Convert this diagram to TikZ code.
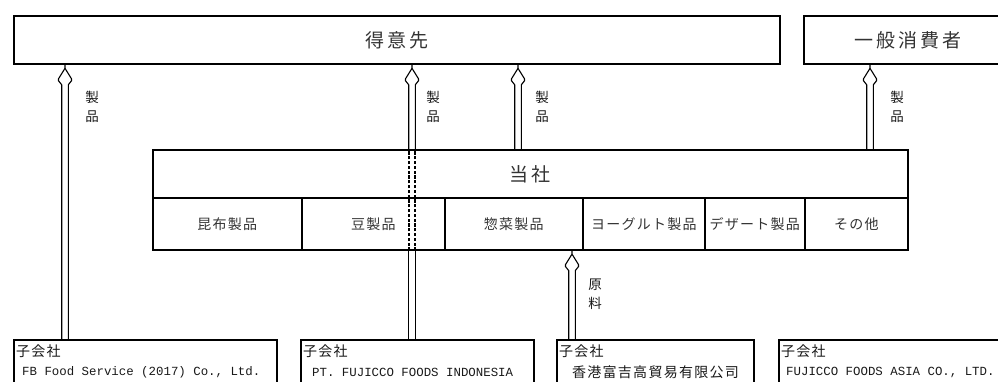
\documentclass[tikz,border=0pt]{standalone}
\usepackage{fontspec}
\setmainfont{Liberation Serif}
\newfontfamily\jpbig{Noto Sans CJK JP}[LetterSpace=15]
\newfontfamily\jp{Noto Sans CJK JP}[LetterSpace=9]
\newfontfamily\jpv{Noto Sans CJK JP}
\newfontfamily\monof{Liberation Mono}
\usetikzlibrary{calc}
\tikzset{
  box/.style={draw, line width=1.8pt, inner sep=0pt, anchor=north west, text=black!80},
  big/.style={font=\jpbig\fontsize{19}{20}\selectfont},
  cell/.style={draw, line width=1.6pt, inner sep=0pt, anchor=north west, minimum height=52pt, text=black!80, font=\jp\fontsize{14}{15}\selectfont},
  lab/.style={inner sep=0pt, align=center, text=black!90, font=\jpv\fontsize{13.5}{19}\selectfont},
  subtxt/.style={inner sep=0pt, anchor=west, text=black!90},
  subjp/.style={subtxt, font=\jp\fontsize{14}{15}\selectfont},
  submono/.style={subtxt, font=\monof\fontsize{12.4}{13}\selectfont},
  arr/.style={line width=1.1pt},
  uparrow/.style={to path={
    ($(\tikztostart)+(-3.3,0)$) -- ($(\tikztotarget)+(-3.3,20)$) -- ($(\tikztotarget)+(-6.5,16)$)
    -- ($(\tikztotarget)+(-6.5,14)$) -- ($(\tikztotarget)+(0,3.5)$) -- ($(\tikztotarget)+(6.5,14)$)
    -- ($(\tikztotarget)+(6.5,16)$) -- ($(\tikztotarget)+(3.3,20)$)
    -- ($(\tikztostart)+(3.3,0)$)
    ($(\tikztotarget)+(0,3.5)$) -- (\tikztotarget)}},
  shaft/.style={to path={
    ($(\tikztostart)+(-3.3,0)$) -- ($(\tikztotarget)+(-3.3,0)$)
    ($(\tikztostart)+(3.3,0)$) -- ($(\tikztotarget)+(3.3,0)$)}}
}
\begin{document}
\begin{tikzpicture}[x=1pt,y=-1pt]
\useasboundingbox (0,0) rectangle (998,382);
\clip (0,0) rectangle (998,382);
% top boxes
\node[box, big, minimum width=766pt, minimum height=48pt] (tokui) at (13,15) {得意先};
\node[box, big, minimum width=208pt, minimum height=48pt] (ippan) at (803,15) {一般消費者};
% company box
\node[box, big, minimum width=755pt, minimum height=48pt] (tosha) at (152,149) {当社};
\node[cell, minimum width=149pt] (c1) at (152,197) {昆布製品};
\node[cell, minimum width=143pt] (c2) at (301,197) {豆製品};
\node[cell, minimum width=138pt] (c3) at (444,197) {惣菜製品};
\node[cell, minimum width=122pt] (c4) at (582,197) {ヨーグルト製品};
\node[cell, minimum width=100pt] (c5) at (704,197) {デザート製品};
\node[cell, minimum width=103pt] (c6) at (804,197) {その他};
% subsidiaries
\node[box, minimum width=263pt, minimum height=70pt] (s1) at (13,339) {};
\node[box, minimum width=233pt, minimum height=70pt] (s2) at (300,339) {};
\node[box, minimum width=197pt, minimum height=70pt] (s3) at (556,339) {};
\node[box, minimum width=235pt, minimum height=70pt] (s4) at (778,339) {};
\node[subjp] (s1a) at (16,351) {子会社};
\node[submono] (s1b) at (22,372) {FB Food Service (2017) Co., Ltd.};
\node[subjp] (s2a) at (303,351) {子会社};
\node[submono] (s2b) at (312,372) {PT. FUJICCO FOODS INDONESIA};
\node[subjp] (s3a) at (559,351) {子会社};
\node[subjp] (s3b) at (572,372) {香港富吉高貿易有限公司};
\node[subjp] (s4a) at (781,351) {子会社};
\node[submono] (s4b) at (786,372) {FUJICCO FOODS ASIA CO., LTD.};
% arrow x positions
\coordinate (X1) at (65,0);
\coordinate (X2) at (412,0);
\coordinate (X3) at (518,0);
\coordinate (X4) at (870,0);
\coordinate (X5) at (572,0);
% arrows
\draw[arr] (s1.north -| X1) to[uparrow] (tokui.south -| X1);
\draw[arr] (s2.north -| X2) to[shaft] (c2.south -| X2);
\draw[line width=1.7pt, dash pattern=on 3.2pt off 1.6pt] (c2.south -| X2) to[shaft] (tosha.north -| X2);
\draw[arr] (tosha.north -| X2) to[uparrow] (tokui.south -| X2);
\draw[arr] (tosha.north -| X3) to[uparrow] (tokui.south -| X3);
\draw[arr] (tosha.north -| X4) to[uparrow] (ippan.south -| X4);
\draw[arr] (s3.north -| X5) to[uparrow] (c3.south -| X5);
% labels
\node[lab] (l1) at (92,107) {製\\品};
\node[lab] (l2) at (433,107) {製\\品};
\node[lab] (l3) at (542,107) {製\\品};
\node[lab] (l4) at (897,107) {製\\品};
\node[lab] (l5) at (595,294) {原\\料};
\end{tikzpicture}
\end{document}
